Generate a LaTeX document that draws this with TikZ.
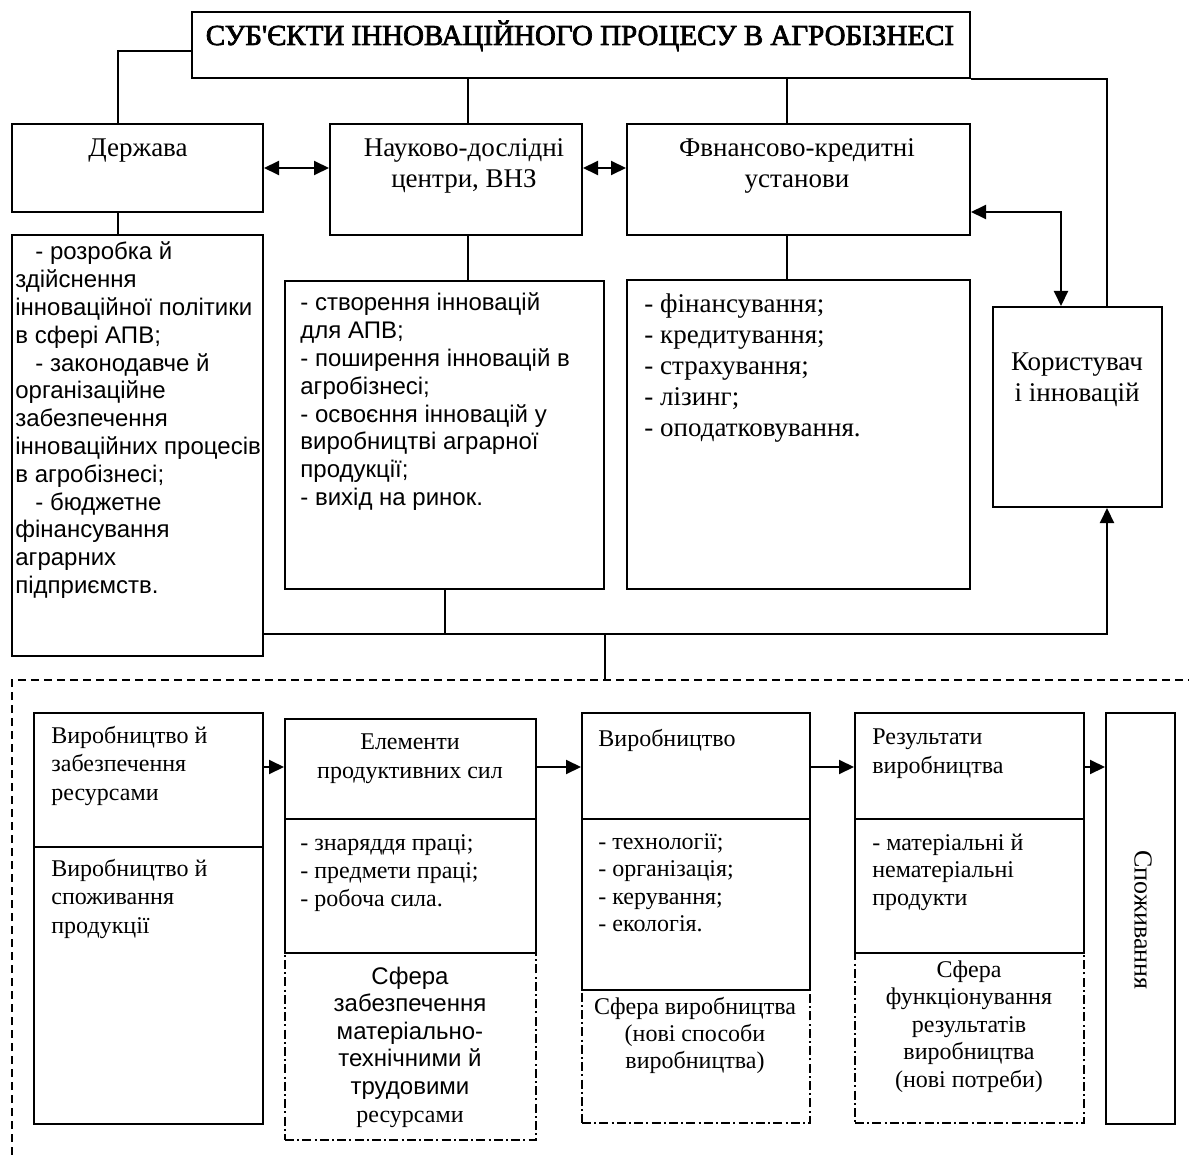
\documentclass[tikz,border=0pt]{standalone}
\usepackage{fontspec}
\setmainfont{Liberation Serif}
\newfontfamily\arial{Liberation Sans}
\newfontfamily\titlefont{Liberation Serif}[FakeBold=2.5,Ligatures=TeXOff]
\usetikzlibrary{arrows.meta,fit}
\begin{document}
\begin{tikzpicture}[x=0.5pt,y=-0.5pt,
  box/.style={draw,line width=1pt,inner sep=0pt},
  dbox/.style={draw,line width=0.9pt,inner sep=0pt,dash pattern=on 4.5pt off 1.6pt on 1pt off 1.6pt},
  ln/.style={line width=1pt},
  arr/.style={line width=1pt,-{Triangle[length=7.5pt,width=7pt]}},
  darr/.style={line width=1pt,{Triangle[length=7.5pt,width=7pt]}-{Triangle[length=7.5pt,width=7pt]}},
  tt/.style={inner sep=0pt,font=\fontsize{13.5}{15.5}\selectfont},
  ar/.style={inner sep=0pt,font=\arial\fontsize{12}{13.9}\selectfont},
  bt/.style={inner sep=0pt,font=\fontsize{12}{14.25}\selectfont},
]
\useasboundingbox (0,0) rectangle (1189,1155);

% ---------- top section boxes ----------
\node[box,fit={(192,12) (970,78)}] (title) {};
\node[inner sep=0pt,anchor=base,font=\titlefont\fontsize{14.5}{16}\selectfont] (ttitle) at (580,45) {СУБ'ЄКТИ ІННОВАЦІЙНОГО ПРОЦЕСУ В АГРОБІЗНЕСІ};

\node[box,fit={(12,124) (263,212)}] (derz) {};
\node[tt,anchor=base] (tderz) at (138,157) {Держава};

\node[box,fit={(330,124) (582,235)}] (nauk) {};
\node[tt,anchor=base] (tnauk) at (464,157) {\parbox[t]{130pt}{\centering Науково-дослідні\\центри, ВНЗ}};

\node[box,fit={(627,124) (970,235)}] (fin) {};
\node[tt,anchor=base] (tfin) at (797,157) {\parbox[t]{150pt}{\centering Фвнансово-кредитні\\установи}};

\node[box,fit={(993,307) (1162,507)}] (kor) {};
\node[tt,anchor=base] (tkor) at (1077,371) {\parbox[t]{80pt}{\centering Користувач\\і інновацій}};

\node[box,fit={(12,235) (263,656)}] (derzl) {};
\node[ar,anchor=base west] (tderzl) at (15,260) {\parbox[t]{124pt}{\raggedright
\hspace*{10pt}- розробка й\\
здійснення\\
інноваційної політики\\
в сфері АПВ;\\
\hspace*{10pt}- законодавче й\\
організаційне\\
забезпечення\\
інноваційних процесів\\
в агробізнесі;\\
\hspace*{10pt}- бюджетне\\
фінансування\\
аграрних\\
підприємств.}};

\node[box,fit={(285,281) (604,589)}] (naukl) {};
\node[ar,anchor=base west] (tnaukl) at (300,311) {\parbox[t]{150pt}{\raggedright
- створення інновацій\\
для АПВ;\\
- поширення інновацій в\\
агробізнесі;\\
- освоєння інновацій у\\
виробництві аграрної\\
продукції;\\
- вихід на ринок.}};

\node[box,fit={(627,280) (970,589)}] (finl) {};
\node[inner sep=0pt,anchor=base west,font=\fontsize{13.5}{15.4}\selectfont] (tfinl) at (644,313) {\parbox[t]{150pt}{\raggedright
- фінансування;\\
- кредитування;\\
- страхування;\\
- лізинг;\\
- оподатковування.}};

% ---------- top connectors ----------
\coordinate (c1) at (118,51);
\coordinate (c2) at (468,0);
\coordinate (c3) at (787,0);
\coordinate (c4) at (1107,0);
\coordinate (c5) at (0,168);
\coordinate (c6) at (1061,212);
\coordinate (c7) at (445,634);
\coordinate (c8) at (605,634);
\coordinate (c9) at (605,680);

\draw[ln] (title.west |- c1) -- (c1) -- (derz.north -| c1);
\draw[ln] (title.south -| c2) -- (nauk.north -| c2);
\draw[ln] (title.south -| c3) -- (fin.north -| c3);
\draw[ln] (title.south east) -- (title.south east -| c4) -- (kor.north -| c4);
\draw[darr] (derz.east |- c5) -- (nauk.west |- c5);
\draw[darr] (nauk.east |- c5) -- (fin.west |- c5);
\draw[darr] (fin.east |- c6) -- (c6) -- (kor.north -| c6);
\draw[ln] (derz.south -| c1) -- (derzl.north -| c1);
\draw[ln] (nauk.south -| c2) -- (naukl.north -| c2);
\draw[ln] (fin.south -| c3) -- (finl.north -| c3);
\draw[ln] (naukl.south -| c7) -- (c7);
\draw[arr] (derzl.east |- c7) -- (c7 -| c4) -- (kor.south -| c4);
\draw[ln] (c8) -- (c9);

% ---------- dashed frame ----------
\draw[line width=0.8pt,dash pattern=on 4pt off 2.5pt] (12,1155) -- (12,680) -- (1189,680);

% ---------- bottom section ----------
\node[box,fit={(34,713) (263,847)}] (b1t) {};
\node[box,fit={(34,847) (263,1124)}] (b1b) {};
\node[bt,anchor=base west] (tb1t) at (51,743) {\parbox[t]{100pt}{\raggedright Виробництво й\\забезпечення\\ресурсами}};
\node[bt,anchor=base west] (tb1b) at (51,876) {\parbox[t]{100pt}{\raggedright Виробництво й\\споживання\\продукції}};

\node[box,fit={(285,719) (536,819)}] (b2t) {};
\node[box,fit={(285,819) (536,953)}] (b2m) {};
\node[dbox,fit={(285,953) (536,1140)}] (b2s) {};
\node[bt,anchor=base,font=\fontsize{12}{14.5}\selectfont] (tb2t) at (410,749) {\parbox[t]{120pt}{\centering Елементи\\продуктивних сил}};
\node[bt,anchor=base west,font=\fontsize{12}{14}\selectfont] (tb2m) at (300,850) {\parbox[t]{110pt}{\raggedright - знаряддя праці;\\- предмети праці;\\- робоча сила.}};
\node[ar,anchor=base,font=\arial\fontsize{12}{13.8}\selectfont] (tb2s) at (410,984) {\parbox[t]{120pt}{\centering Сфера\\забезпечення\\матеріально-\\технічними й\\трудовими\\{\rmfamily\fontsize{12}{13.8}\selectfont ресурсами}}};

\node[box,fit={(582,713) (810,819)}] (b3t) {};
\node[box,fit={(582,819) (810,990)}] (b3m) {};
\node[dbox,fit={(582,990) (810,1123)}] (b3s) {};
\node[bt,anchor=base west] (tb3t) at (598,746) {Виробництво};
\node[bt,anchor=base west,font=\fontsize{12}{13.75}\selectfont] (tb3m) at (598,849) {\parbox[t]{100pt}{\raggedright - технології;\\- організація;\\- керування;\\- екологія.}};
\node[bt,anchor=base,font=\fontsize{12}{13.5}\selectfont] (tb3s) at (695,1014) {\parbox[t]{112pt}{\centering Сфера виробництва\\(нові способи\\виробництва)}};

\node[box,fit={(855,713) (1084,819)}] (b4t) {};
\node[box,fit={(855,819) (1084,953)}] (b4m) {};
\node[dbox,fit={(855,953) (1084,1123)}] (b4s) {};
\node[bt,anchor=base west,font=\fontsize{12}{14.5}\selectfont] (tb4t) at (872,744) {\parbox[t]{100pt}{\raggedright Результати\\виробництва}};
\node[bt,anchor=base west,font=\fontsize{12}{13.75}\selectfont] (tb4m) at (872,850) {\parbox[t]{100pt}{\raggedright - матеріальні й\\нематеріальні\\продукти}};
\node[bt,anchor=base,font=\fontsize{12}{13.75}\selectfont] (tb4s) at (969,977) {\parbox[t]{112pt}{\centering Сфера\\функціонування\\результатів\\виробництва\\(нові потреби)}};

\node[box,fit={(1106,713) (1175,1124)}] (b5) {};
\node[inner sep=0pt,rotate=-90,font=\fontsize{13}{15}\selectfont] (tb5) at (1143,920) {Споживання};

\coordinate (ya) at (0,767);
\draw[arr] (b1t.east |- ya) -- (b2t.west |- ya);
\draw[arr] (b2t.east |- ya) -- (b3t.west |- ya);
\draw[arr] (b3t.east |- ya) -- (b4t.west |- ya);
\draw[arr] (b4t.east |- ya) -- (b5.west |- ya);
\end{tikzpicture}
\end{document}
